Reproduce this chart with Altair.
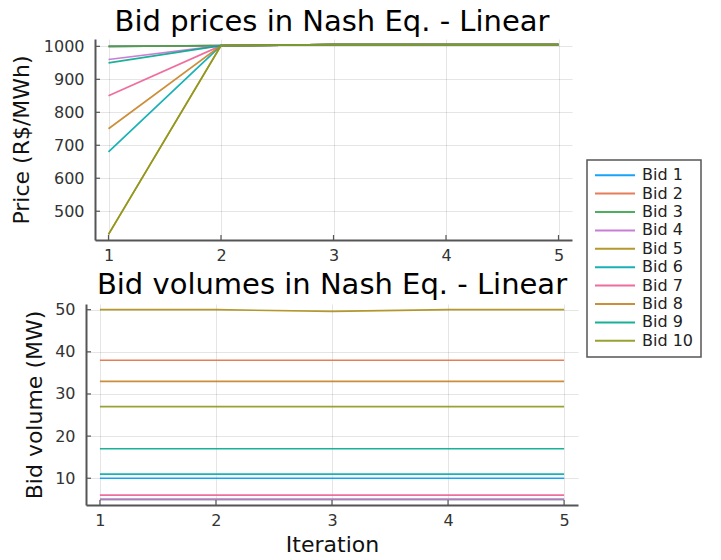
import altair as alt
import pandas as pd

iterations = [1, 2, 3, 4, 5]
bid_names = ["Bid 1", "Bid 2", "Bid 3", "Bid 4", "Bid 5",
             "Bid 6", "Bid 7", "Bid 8", "Bid 9", "Bid 10"]
bid_colors = ["#009AFA", "#E36F47", "#3EA44E", "#C371D2", "#AC8E18",
              "#00AAAE", "#ED5E93", "#C68225", "#00A98D", "#8E971D"]

# Bid prices (R$/MWh) per iteration
price_bid1 = [1000, 1002, 1005, 1005, 1005]
price_bid2 = [1000, 1002, 1005, 1005, 1005]
price_bid3 = [1000, 1002, 1005, 1005, 1005]
price_bid4 = [960, 1002, 1005, 1005, 1005]
price_bid5 = [430, 1002, 1005, 1005, 1005]
price_bid6 = [680, 1002, 1005, 1005, 1005]
price_bid7 = [850, 1002, 1005, 1005, 1005]
price_bid8 = [750, 1002, 1005, 1005, 1005]
price_bid9 = [950, 1002, 1005, 1005, 1005]
price_bid10 = [430, 1002, 1005, 1005, 1005]

# Bid volumes (MW) per iteration
volume_bid1 = [10, 10, 10, 10, 10]
volume_bid2 = [38, 38, 38, 38, 38]
volume_bid3 = [5, 5, 5, 5, 5]
volume_bid4 = [5, 5, 5, 5, 5]
volume_bid5 = [50, 50, 49.6, 50, 50]
volume_bid6 = [11, 11, 11, 11, 11]
volume_bid7 = [6, 6, 6, 6, 6]
volume_bid8 = [33, 33, 33, 33, 33]
volume_bid9 = [17, 17, 17, 17, 17]
volume_bid10 = [27, 27, 27, 27, 27]

iteration_ticks = [1, 2, 3, 4, 5]
price_ticks = [500, 600, 700, 800, 900, 1000]
volume_ticks = [10, 20, 30, 40, 50]

prices = [price_bid1, price_bid2, price_bid3, price_bid4, price_bid5,
          price_bid6, price_bid7, price_bid8, price_bid9, price_bid10]
volumes = [volume_bid1, volume_bid2, volume_bid3, volume_bid4, volume_bid5,
           volume_bid6, volume_bid7, volume_bid8, volume_bid9, volume_bid10]

rows = []
for name, p, v in zip(bid_names, prices, volumes):
    for it, pv, vv in zip(iterations, p, v):
        rows.append({"Bid": name, "Iteration": it, "Price": pv, "Volume": vv})
df = pd.DataFrame(rows)

FONT = "DejaVu Sans"
W = 492
H = 201
AXIS_COLOR = "#555"

color = alt.Color("Bid:N", scale=alt.Scale(domain=bid_names, range=bid_colors),
                  legend=alt.Legend(title=None, orient="none", legendX=501, legendY=121))


def panel(field, yticks, ydomain, title, ytitle, xtitle, xrange, yaxis_offset, title_offset, ytitle_pad):
    xs = alt.Scale(domain=[0.88, 5.12], nice=False, zero=False, range=xrange)
    ys = alt.Scale(domain=ydomain, nice=False, zero=False)
    lines = alt.Chart(df).mark_line(strokeWidth=1.7, opacity=0.9).encode(
        x=alt.X("Iteration:Q", scale=xs,
                axis=alt.Axis(values=iteration_ticks, title=xtitle, format="d", titlePadding=6)),
        y=alt.Y(f"{field}:Q", scale=ys,
                axis=alt.Axis(values=yticks, title=ytitle, titlePadding=ytitle_pad,
                              format="d", offset=yaxis_offset)),
        color=color,
    )
    # inward tick marks, as on the original axes
    xt = alt.Chart(pd.DataFrame({"Iteration": iteration_ticks})).mark_rule(
        color=AXIS_COLOR, strokeWidth=1.2).encode(
        x=alt.X("Iteration:Q", scale=xs), y=alt.value(H), y2=alt.value(H - 5))
    yt = alt.Chart(pd.DataFrame({field: yticks})).mark_rule(
        color=AXIS_COLOR, strokeWidth=1.2).encode(
        y=alt.Y(f"{field}:Q", scale=ys),
        x=alt.value(-yaxis_offset), x2=alt.value(-yaxis_offset + 5))
    return alt.layer(lines, xt, yt).properties(
        width=W, height=H,
        title=alt.TitleParams(title, fontSize=29, font=FONT, fontWeight="normal",
                              anchor="middle", baseline="alphabetic", offset=title_offset, color="#000"),
    )


top = panel("Price", price_ticks, [412.75, 1022.25], "Bid prices in Nash Eq. - Linear",
            "Price (R$/MWh)", None, [9, 486], -9, -22, 10)
bottom = panel("Volume", volume_ticks, [3.65, 51.35], "Bid volumes in Nash Eq. - Linear",
               "Bid volume (MW)", "Iteration", [0, W], 0, -21, 8)

chart = alt.vconcat(top, bottom, spacing=7).properties(
    padding={"left": 2, "top": 0, "right": 2, "bottom": 0}
).configure_view(stroke=None).configure_axis(
    domainColor=AXIS_COLOR, domainWidth=2, grid=True, gridColor="#000", gridOpacity=0.1,
    ticks=False, labelFont=FONT, labelFontSize=16, labelColor="#333", labelPadding=7,
    titleFont=FONT, titleFontSize=22, titleFontWeight="normal", titleColor="#111",
).configure_axisY(labelPadding=11).configure_legend(
    strokeColor=AXIS_COLOR, strokeWidth=1.5, fillColor="#fff", padding=7, cornerRadius=0,
    symbolType="stroke", symbolStrokeWidth=2, symbolSize=1600, labelFont=FONT,
    labelFontSize=16, labelColor="#222", rowPadding=1.4, labelOffset=6, clipHeight=16.4,
)

chart.save("out.html", embed_options={"renderer": "svg", "actions": False})
